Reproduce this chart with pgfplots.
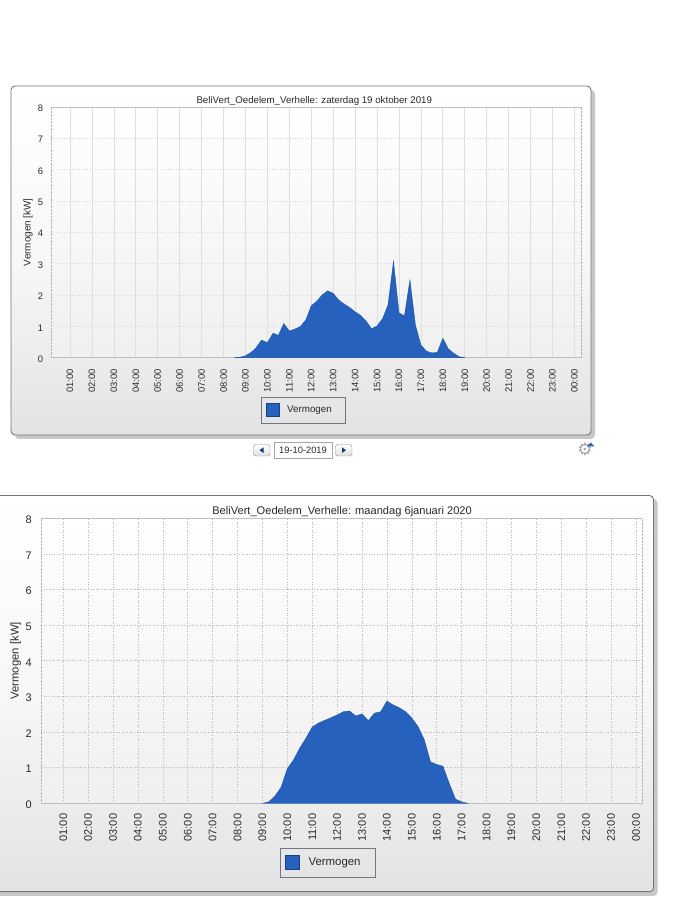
\documentclass[border=0pt]{standalone}
\usepackage{pgfplots}
\usepackage{fontspec}
\pgfplotsset{compat=1.18}
\setmainfont{Liberation Sans}
\newfontfamily\djv{DejaVu Sans}
\definecolor{areablue}{HTML}{2561BD}
\definecolor{areaedge}{HTML}{1D52A6}
\definecolor{panelline}{HTML}{6F7880}
\definecolor{txt}{HTML}{2A2A2A}
\pgfplotstableread{
h v
8.48 0
8.79 0.02
9.00 0.06
9.24 0.16
9.47 0.30
9.73 0.56
10.00 0.48
10.26 0.78
10.50 0.71
10.75 1.09
11.00 0.85
11.25 0.91
11.50 0.99
11.75 1.20
12.00 1.65
12.25 1.80
12.50 2.00
12.75 2.13
13.00 2.05
13.25 1.84
13.50 1.71
13.75 1.60
14.00 1.46
14.25 1.35
14.50 1.17
14.75 0.92
15.00 1.01
15.25 1.24
15.50 1.68
15.75 3.07
16.00 1.43
16.25 1.33
16.50 2.48
16.75 1.04
17.00 0.40
17.25 0.21
17.50 0.15
17.75 0.17
18.00 0.62
18.25 0.28
18.50 0.14
18.75 0.03
19.00 0
}\oktober
\pgfplotstableread{
h v
9.00 0
9.25 0.04
9.50 0.20
9.75 0.45
10.00 0.97
10.25 1.22
10.50 1.55
10.75 1.83
11.00 2.14
11.25 2.25
11.50 2.33
11.75 2.40
12.00 2.48
12.25 2.57
12.50 2.59
12.75 2.45
13.00 2.51
13.25 2.32
13.50 2.53
13.75 2.57
14.00 2.87
14.25 2.76
14.50 2.68
14.75 2.57
15.00 2.39
15.25 2.15
15.50 1.78
15.75 1.16
16.00 1.09
16.25 1.04
16.50 0.56
16.75 0.12
17.00 0.04
17.25 0
}\januari
\newlength{\legendsq}
\pgfplotsset{
  common/.style={
    scale only axis,
    anchor=south west,
    xmin=0.12, ymin=0, ymax=8,
    xtick={1,...,24},
    xticklabels={01:00,02:00,03:00,04:00,05:00,06:00,07:00,08:00,09:00,10:00,11:00,12:00,13:00,14:00,15:00,16:00,17:00,18:00,19:00,20:00,21:00,22:00,23:00,00:00},
    ytick={0,...,8},
    major tick length=0pt,
    xmajorgrids, ymajorgrids,
    separate axis lines,
    x axis line style={draw=black!25,-},
    y axis line style={draw=black!30,densely dotted,-},
    /pgf/number format/assume math mode=true,
    ticklabel style={text=txt},
    xticklabel style={rotate=90,anchor=east},
    legend cell align=left,
    area legend,
    legend image code/.code={\fill[areablue,draw=areaedge!80!black,line width=.4pt] (0pt,-0.5\legendsq) rectangle (\legendsq,0.5\legendsq);},
  }
}
\begin{document}
\begin{tikzpicture}[x=1pt,y=1pt]
\useasboundingbox (0,0) rectangle (675,916);
\fill[white] (0,0) rectangle (675,916);
% top panel
\fill[black!22,rounded corners=4pt] (15,916-439) rectangle (595,916-90);
\shade[rounded corners=4pt,draw=panelline,line width=.9pt,top color=white,bottom color=black!11,middle color=black!3] (11,916-435) rectangle (591,916-86);
\shade[top color=white,bottom color=black!6] (50.7,916-357.7) rectangle (581,916-106.7);
% bottom panel
\fill[black!22,rounded corners=4pt] (-6,916-896) rectangle (657.5,916-499);
\shade[rounded corners=4pt,draw=panelline,line width=.9pt,top color=white,bottom color=black!11,middle color=black!3] (-10,916-891.7) rectangle (653.5,916-495.5);
\shade[top color=white,bottom color=black!6] (41.3,916-803.3) rectangle (641.7,916-518.3);

\setlength{\legendsq}{12.5pt}
\begin{axis}[common,
  at={(50.7pt,558.3pt)}, width=530.3pt, height=251pt,
  xmax=24.3,
  grid style={draw=black!13,line width=.7pt},
  ymajorgrids=false,
  font=\fontsize{9.4}{10}\selectfont,
  xticklabel style={xshift=-8pt},
  yticklabel style={xshift=-4pt,yshift=-1.5pt},
  title={BeliVert\_Oedelem\_Verhelle: zaterdag 19 oktober 2019},
  title style={at={(axis description cs:0.497,1.0008)},anchor=center,yshift=0pt,text=txt,font=\fontsize{9.7}{10}\selectfont},
  ylabel={Vermogen [kW]},
  every axis y label/.append style={at={(axis description cs:-0.0428,0.5)},anchor=center,text=txt,font=\fontsize{9.9}{10}\selectfont},
  legend style={at={(0.4758,-0.208)},anchor=center,draw=panelline,fill=none,inner xsep=5pt,inner ysep=6.5pt,text=txt,font=\fontsize{9.8}{10}\selectfont},
]
\addplot[draw=black!15,line width=.6pt,forget plot,dotted] coordinates {(0.12,1) (24.3,1)};
\addplot[draw=black!15,line width=.6pt,forget plot,dotted] coordinates {(0.12,2) (24.3,2)};
\addplot[draw=black!15,line width=.6pt,forget plot,dotted] coordinates {(0.12,3) (24.3,3)};
\addplot[draw=black!15,line width=.6pt,forget plot,dotted] coordinates {(0.12,4) (24.3,4)};
\addplot[draw=black!15,line width=.6pt,forget plot,dotted] coordinates {(0.12,5) (24.3,5)};
\addplot[draw=black!15,line width=.6pt,forget plot,dotted] coordinates {(0.12,6) (24.3,6)};
\addplot[draw=black!15,line width=.6pt,forget plot,dotted] coordinates {(0.12,7) (24.3,7)};
\addplot[fill=areablue,draw=areaedge,line width=.4pt] table[x=h,y=v] {\oktober} \closedcycle;
\addlegendentry{\hbox{\kern6pt Vermogen\kern6pt}}
\end{axis}

\setlength{\legendsq}{13.7pt}
\begin{axis}[common,
  at={(41.3pt,112.7pt)}, width=600.4pt, height=285pt,
  xmax=24.23,
  grid style={draw=black!28,line width=.6pt,dotted},
  font=\fontsize{11}{12}\selectfont,
  xticklabel style={xshift=-7pt},
  yticklabel style={xshift=-6pt,yshift=-1.5pt},
  title={BeliVert\_Oedelem\_Verhelle: maandag 6januari 2020},
  title style={at={(axis description cs:0.501,1.001)},anchor=center,yshift=0pt,text=txt,font=\fontsize{11.1}{12}\selectfont},
  ylabel={Vermogen [kW]},
  every axis y label/.append style={at={(axis description cs:-0.0425,0.5)},anchor=center,text=txt,font=\fontsize{11.3}{12}\selectfont},
  legend style={at={(0.4775,-0.2077)},anchor=center,draw=panelline,fill=none,inner xsep=5pt,inner ysep=7.5pt,text=txt,font=\fontsize{11.4}{12}\selectfont},
]
\addplot[fill=areablue,draw=areaedge,line width=.4pt] table[x=h,y=v] {\januari} \closedcycle;
\addlegendentry{\hbox{\kern7pt Vermogen\kern8pt}}
\end{axis}

% date navigator
\draw[rounded corners=2.5pt,draw=black!45,top color=white,bottom color=black!12] (253.5,916-456) rectangle (270,916-444.5);
\fill[areaedge!70!black] (259.5,916-450.2) -- (263.5,916-447.4) -- (263.5,916-453) -- cycle;
\draw[rounded corners=2.5pt,draw=black!45,top color=white,bottom color=black!12] (335.5,916-456) rectangle (352,916-444.5);
\fill[areaedge!70!black] (346,916-450.2) -- (342,916-447.4) -- (342,916-453) -- cycle;
\draw[draw=black!35,fill=white] (274,916-458) rectangle (332,916-442);
\node[text=txt,font=\fontsize{9.3}{10}\selectfont] at (303,916-450.2) {19-10-2019};
% gear
\node[text=black!35,font=\djv\fontsize{17}{17}\selectfont] at (585,916-449) {⚙};
\fill[areablue] (587,916-446.5) -- (594.5,916-446.5) -- (590.7,916-442.5) -- cycle;
\end{tikzpicture}
\end{document}
